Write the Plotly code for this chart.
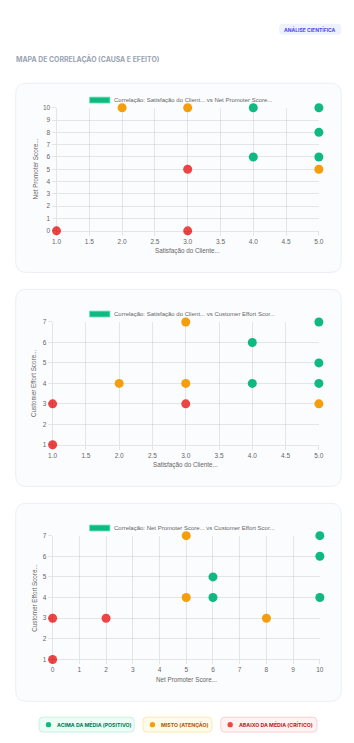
import plotly.graph_objects as go

W, H = 354, 743

# ---------------- data ----------------
GREEN, ORANGE, RED = "#10b981", "#f59e0b", "#ef4444"

# Chart 1: Satisfação do Cliente vs Net Promoter Score
c1_green_x = [4, 5, 5, 4, 5]
c1_green_y = [10, 10, 8, 6, 6]
c1_orange_x = [2, 3, 5]
c1_orange_y = [10, 10, 5]
c1_red_x = [3, 3, 1]
c1_red_y = [5, 0, 0]

# Chart 2: Satisfação do Cliente vs Customer Effort Score
c2_green_x = [5, 4, 5, 4, 5]
c2_green_y = [7, 6, 5, 4, 4]
c2_orange_x = [3, 2, 3, 5]
c2_orange_y = [7, 4, 4, 3]
c2_red_x = [1, 3, 1]
c2_red_y = [3, 3, 1]

# Chart 3: Net Promoter Score vs Customer Effort Score
c3_green_x = [10, 10, 6, 6, 10]
c3_green_y = [7, 6, 5, 4, 4]
c3_orange_x = [5, 5, 8]
c3_orange_y = [7, 4, 3]
c3_red_x = [0, 2, 0]
c3_red_y = [3, 3, 1]

legend_titles = [
    "Correlação: Satisfação do Client... vs Net Promoter Score...",
    "Correlação: Satisfação do Client... vs Customer Effort Scor...",
    "Correlação: Net Promoter Score... vs Customer Effort Scor...",
]
x_titles = ["Satisfação do Cliente...", "Satisfação do Cliente...", "Net Promoter Score..."]
y_titles = ["Net Promoter Score...", "Customer Effort Score...", "Customer Effort Score..."]
bottom_legend = ["ACIMA DA MÉDIA (POSITIVO)", "MISTO (ATENÇÃO)", "ABAIXO DA MÉDIA (CRÍTICO)"]


def px(x):
    return x / W


def py(y):
    return 1 - y / H


fig = go.Figure()
shapes = []
annotations = []


def rounded_rect(x0, y0, x1, y1, r, fill, line, width=1):
    X = lambda v: px(v)
    Y = lambda v: py(v)
    path = (
        f"M {X(x0 + r)},{Y(y0)} L {X(x1 - r)},{Y(y0)} Q {X(x1)},{Y(y0)} {X(x1)},{Y(y0 + r)} "
        f"L {X(x1)},{Y(y1 - r)} Q {X(x1)},{Y(y1)} {X(x1 - r)},{Y(y1)} "
        f"L {X(x0 + r)},{Y(y1)} Q {X(x0)},{Y(y1)} {X(x0)},{Y(y1 - r)} "
        f"L {X(x0)},{Y(y0 + r)} Q {X(x0)},{Y(y0)} {X(x0 + r)},{Y(y0)} Z"
    )
    shapes.append(dict(type="path", path=path, xref="paper", yref="paper",
                       fillcolor=fill, line=dict(color=line, width=width), layer="below"))


# header
rounded_rect(282, 20, 346, 31, 4, "#eef2ff", "#eef2ff", 0)
annotations.append(dict(text="<b>ANÁLISE CIENTÍFICA</b>", x=px(314), y=py(25.8), xref="paper", yref="paper",
                        showarrow=False, font=dict(family="Inter", size=5, color="#4f46e5"),
                        xanchor="center", yanchor="middle"))
annotations.append(dict(text="<b>MAPA DE CORRELAÇÃO (CAUSA E EFEITO)</b>", x=px(9.5), y=py(56), xref="paper",
                        yref="paper", showarrow=False, font=dict(family="Inter", size=6.9, color="#9aa3b2"),
                        xanchor="left", yanchor="middle"))

cards = [(11, 80, 346, 271), (11, 288, 346, 487), (11, 504, 346, 704)]
for c in cards:
    rounded_rect(*c, 11, "#fbfcfe", "#eceff4", 1)

charts = [
    dict(gx=c1_green_x, gy=c1_green_y, ox=c1_orange_x, oy=c1_orange_y, rx=c1_red_x, ry=c1_red_y,
         xd=(53, 323), yd=(104.7, 229), xr=[1, 5], yr=[0, 10], dx=0.5, xfmt=".1f",
         leg_y=97, xt_y=249, yt_x=31),
    dict(gx=c2_green_x, gy=c2_green_y, ox=c2_orange_x, oy=c2_orange_y, rx=c2_red_x, ry=c2_red_y,
         xd=(49, 323), yd=(321, 445), xr=[1, 5], yr=[1, 7], dx=0.5, xfmt=".1f",
         leg_y=313, xt_y=465, yt_x=29.5),
    dict(gx=c3_green_x, gy=c3_green_y, ox=c3_orange_x, oy=c3_orange_y, rx=c3_red_x, ry=c3_red_y,
         xd=(49, 324), yd=(536.7, 661.7), xr=[0, 10], yr=[1, 7], dx=1, xfmt="d",
         leg_y=529, xt_y=682, yt_x=30),
]

GRID = "rgba(0,0,0,0.09)"
TICKF = dict(family="Liberation Sans", size=6.5, color="#666666")

layout_axes = {}
for i, ch in enumerate(charts, start=1):
    xa = "x" if i == 1 else f"x{i}"
    ya = "y" if i == 1 else f"y{i}"
    for xs, ys, col in [(ch["gx"], ch["gy"], GREEN), (ch["ox"], ch["oy"], ORANGE), (ch["rx"], ch["ry"], RED)]:
        fig.add_trace(go.Scatter(x=xs, y=ys, mode="markers", xaxis=xa, yaxis=ya, showlegend=False,
                                 cliponaxis=False,
                                 marker=dict(color=col, size=9, line=dict(width=0))))
    xkey = "xaxis" if i == 1 else f"xaxis{i}"
    ykey = "yaxis" if i == 1 else f"yaxis{i}"
    layout_axes[xkey] = dict(domain=[px(ch["xd"][0]), px(ch["xd"][1])], range=ch["xr"], dtick=ch["dx"],
                             tick0=ch["xr"][0], tickformat=ch["xfmt"], anchor=ya, showgrid=True,
                             gridcolor=GRID, zeroline=False, showline=True, linecolor=GRID,
                             ticks="outside", ticklen=4, tickcolor=GRID, tickfont=TICKF, fixedrange=True)
    layout_axes[ykey] = dict(domain=[py(ch["yd"][1]), py(ch["yd"][0])], range=ch["yr"], dtick=1,
                             anchor=xa, showgrid=True, gridcolor=GRID, zeroline=False, showline=True,
                             linecolor=GRID, ticks="outside", ticklen=4, tickcolor=GRID, tickfont=TICKF,
                             fixedrange=True)
    shapes.append(dict(type="rect", xref="paper", yref="paper", x0=px(87), x1=px(108),
                       y0=py(ch["leg_y"] - 3), y1=py(ch["leg_y"] + 3), fillcolor=GREEN,
                       line=dict(color="#6ee7b7", width=0.8)))
    annotations.append(dict(text=legend_titles[i - 1], x=px(110.5), y=py(ch["leg_y"]), xref="paper",
                            yref="paper", showarrow=False, xanchor="left", yanchor="middle",
                            font=dict(family="Liberation Sans", size=6.0, color="#666666")))
    annotations.append(dict(text=x_titles[i - 1], x=px((ch["xd"][0] + ch["xd"][1]) / 2), y=py(ch["xt_y"]),
                            xref="paper", yref="paper", showarrow=False, xanchor="center",
                            yanchor="middle", font=dict(family="Liberation Sans", size=6.3, color="#666666")))
    annotations.append(dict(text=y_titles[i - 1], x=px(ch["yt_x"]), y=py((ch["yd"][0] + ch["yd"][1]) / 2),
                            xref="paper", yref="paper", showarrow=False, xanchor="center",
                            yanchor="middle", textangle=-90,
                            font=dict(family="Liberation Sans", size=6.3, color="#666666")))

pills = [
    (35, 133, "#ecfdf5", "#c9f2df", GREEN, "#047857"),
    (142, 213, "#fffbeb", "#fbeab0", ORANGE, "#b45309"),
    (222, 321, "#fef2f2", "#fbd0d0", RED, "#b91c1c"),
]
for (x0, x1, bg, bd, dot, tc), label in zip(pills, bottom_legend):
    rounded_rect(x0, 720, x1, 735, 4, bg, bd, 1)
    shapes.append(dict(type="circle", xref="paper", yref="paper", x0=px(x0 + 7), x1=px(x0 + 12.5),
                       y0=py(727.5 + 2.75), y1=py(727.5 - 2.75), fillcolor=dot, line=dict(width=0)))
    annotations.append(dict(text=f"<b>{label}</b>", x=px(x0 + 16.5), y=py(727.5), xref="paper",
                            yref="paper", showarrow=False, xanchor="left", yanchor="middle",
                            font=dict(family="Inter", size=5.2, color=tc)))

fig.update_layout(
    width=W, height=H, margin=dict(l=0, r=0, t=0, b=0),
    paper_bgcolor="white", plot_bgcolor="rgba(0,0,0,0)",
    shapes=shapes, annotations=annotations, showlegend=False,
    **layout_axes,
)

fig.write_html("out.html", config=dict(displayModeBar=False))
